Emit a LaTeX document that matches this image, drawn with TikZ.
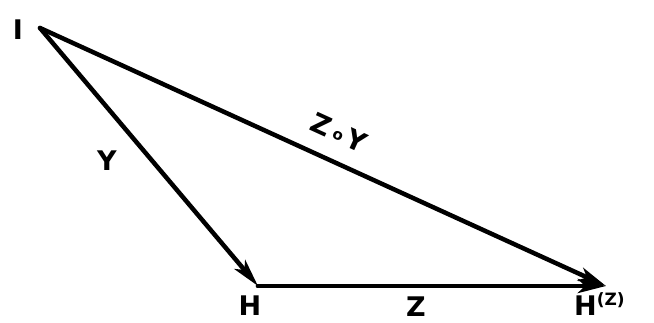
\documentclass[tikz,border=0pt]{standalone}
\usepackage{fontspec}
\setmainfont{DejaVu Sans}
\usetikzlibrary{arrows.meta}
\begin{document}
\begin{tikzpicture}[x=1pt,y=-1pt,
  edge/.style={line width=4.5pt,line cap=round,-{Stealth[length=28pt,width=14pt,inset=7pt]}},
  lbl/.style={font=\bfseries\fontsize{27}{29}\selectfont,inner sep=0pt}]
\useasboundingbox[fill=white] (0,0) rectangle (654,323);
\coordinate (I) at (40,28);
\coordinate (H) at (258,286);
\coordinate (Hz) at (606,286);
\node[lbl] (lI) at (18,30) {I};
\node[lbl] (lH) at (250,306) {H};
\node[lbl,anchor=base west] (lHz) at (574,316) {H\raisebox{10pt}{\fontsize{17}{18}\selectfont(Z)}};
\node[lbl] (lY) at (107,161) {Y};
\node[lbl] (lZ) at (416,307) {Z};
\node[lbl,rotate=-24.5] (lZY) at (339,133) {Z\,\raisebox{3pt}{\fontsize{15}{15}\selectfont o}\,Y};
\draw[edge] (I) -- (H);
\draw[line width=4.5pt,line cap=round] (H) -- ++(6,0);
\draw[edge] (H) -- (Hz);
\draw[edge] (I) -- (Hz);
\end{tikzpicture}
\end{document}
